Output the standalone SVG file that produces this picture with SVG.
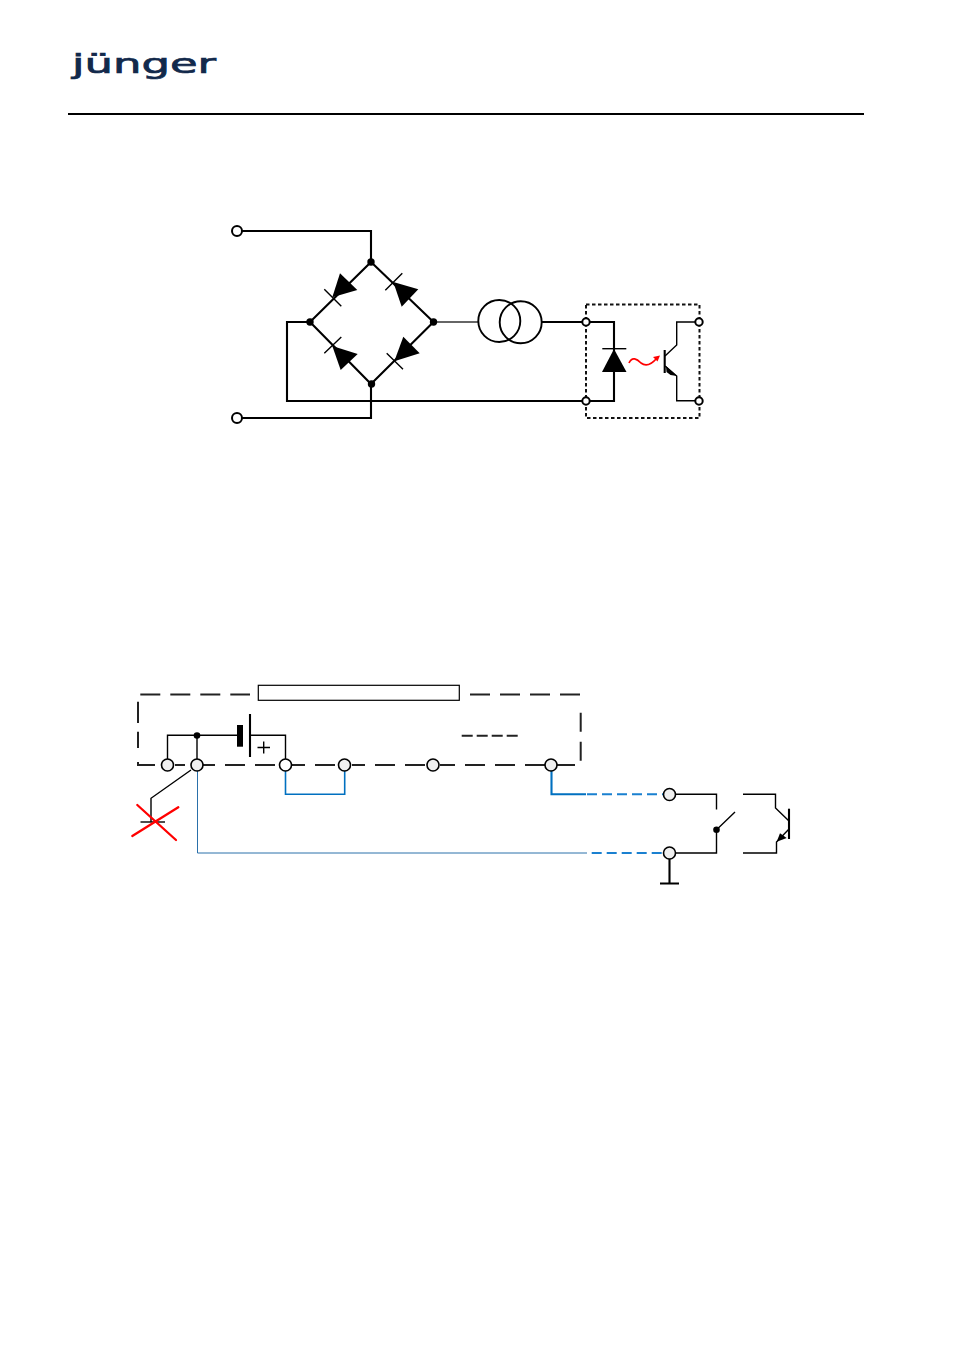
<svg xmlns="http://www.w3.org/2000/svg" width="954" height="1351" viewBox="0 0 954 1351">
<defs>
<style>
.w{fill:none;stroke:#000;stroke-width:2.100}
.t{fill:none;stroke:#000;stroke-width:1.400}
.f{fill:#000;stroke:none}
.p{fill:#fff;stroke:#000;stroke-width:2}
.s{fill:#fff;stroke:#000;stroke-width:1.600}
.g{fill:#f0f0f0;stroke:#000;stroke-width:1.600}
.d{fill:none;stroke:#222;stroke-width:2}
.b{fill:none;stroke:#0070c0;stroke-width:1.600}
.bb{fill:none;stroke:#0070c0;stroke-width:2.100}
.bt{fill:none;stroke:#2a70aa;stroke-width:1}
.bd{fill:none;stroke:#1a80d0;stroke-width:2;stroke-dasharray:10 5}
</style>
</defs>
<rect width="954" height="1351" fill="#fff"/>
<g id="logo"><text x="72" y="73" font-family="'DejaVu Sans',sans-serif" font-size="27" fill="#12294b" stroke="#12294b" stroke-width="0.700" textLength="144" lengthAdjust="spacingAndGlyphs">jünger</text></g>
<line id="header-rule" x1="68" y1="114" x2="864" y2="114" stroke="#000" stroke-width="2"/>
<g id="connectors">
<path class="w" d="M242,231H371V262L310,322L371,384L433.500,322L371,262"/>
<path class="w" d="M242,418H371V384"/>
<path class="w" d="M310,322H287V401H586"/>
<path fill="none" stroke="#333" stroke-width="1.300" d="M433.500,322H478"/>
<path class="w" d="M542,322H586"/>
<path class="w" d="M590,322H614V401H590"/>
<path class="t" d="M699,322H676.700V345L665,356M665,366L676.700,376V400.700H699"/>
<path class="t" d="M167.500,759V735.300H240M250,735.300H285.500V759M197,735.300V759"/>
<path class="t" d="M191,770L151,798.300V822"/>
<path class="t" d="M675.500,794.300H716.500V809.500M675.500,853H716.500V829.700L735,812"/>
<path class="t" d="M743,794.300H775.500V808L789,821M789,829L776.500,842V853H743"/>
<path class="b" d="M285.500,771V794.300H344.700V771"/>
<path class="bb" d="M551.500,771V794.300H586"/>
<path class="bd" d="M587,794.300H663"/>
<path class="bt" d="M197.500,771V853H587"/>
<path class="bd" d="M591.700,853H663"/>
<path class="d" stroke-dasharray="11 4" d="M461.700,735.700H518"/>
</g>
<g id="bridge">
<polygon class="f" points="340,273.300 357.300,290 332.300,297.300"/>
<polygon class="f" points="393.300,282 418.300,289.300 401.700,306.700"/>
<polygon class="f" points="332.300,346 357.700,354 340.700,370"/>
<polygon class="f" points="403.300,336.700 419.700,353.300 394.300,361.300"/>
<path class="t" d="M324.300,289.300L341.300,306.300M385.300,290.300L402.300,273.300M324.300,353.300L341.300,337M386.700,353.300L403,369.300"/>
<circle class="f" cx="371" cy="262" r="3.700"/><circle class="f" cx="310" cy="322" r="3.700"/><circle class="f" cx="433.500" cy="322" r="3.700"/><circle class="f" cx="371.500" cy="384" r="3.700"/>
</g>
<g id="input-top"><circle class="p" cx="237" cy="231" r="5"/></g>
<g id="input-bottom"><circle class="p" cx="237" cy="418" r="5"/></g>
<g id="current-source"><circle cx="499.300" cy="321" r="21" fill="none" stroke="#000" stroke-width="1.900"/><circle cx="520.700" cy="322.300" r="21" fill="none" stroke="#000" stroke-width="1.900"/></g>
<g id="optocoupler">
<rect x="586" y="304.500" width="113.500" height="113.500" fill="none" stroke="#111" stroke-width="2" stroke-dasharray="3.500 2.500"/>
<path class="t" d="M602.300,348.700H626.300"/>
<path class="f" d="M614,349L626.500,372H602Z"/>
<path fill="none" stroke="#f00" stroke-width="1.700" d="M629,363C632,356 637,359 641,363C646,367 651,365 657,358"/>
<path fill="#f00" d="M660,355.500L653,357L657.500,361.500Z"/>
<path class="w" d="M664.700,350V373"/>
<path class="f" d="M666,366L677,376L670.500,375L666.500,372Z"/>
<circle class="p" cx="586" cy="322" r="3.700"/><circle class="p" cx="586" cy="401" r="3.700"/><circle class="p" cx="699" cy="322" r="3.700"/><circle class="p" cx="699" cy="401" r="3.700"/>
</g>
<g id="enclosure">
<path class="d" stroke-dasharray="20 10" d="M140.300,694.500H250"/>
<path class="d" stroke-dasharray="20 10" d="M470,694.500H580.700V700"/>
<path class="d" stroke-dasharray="19 10" d="M580.700,712.700V762"/>
<path class="d" d="M138,701.700V723M138,731.700V748"/>
<path class="d" d="M138,762V765H155M175,765H185M203,765H215M225,765H245M255,765H275M292,765H305M315,765H335M352,765H365M375,765H395M405,765H425M440,765H455M465,765H485M495,765H515M525,765H545M557,765H575"/>
</g>
<g id="label-box"><rect x="258.300" y="685.300" width="201" height="15" fill="#fff" stroke="#000" stroke-width="1.200"/></g>
<g id="battery">
<rect x="237" y="725" width="6" height="21.700" fill="#000"/>
<path class="w" d="M250,714V757"/>
<path class="t" d="M257.500,747.500H270M263.700,741.500V753.500"/>
<circle class="f" cx="197" cy="735.500" r="3.300"/>
</g>
<g id="terminals">
<circle class="g" cx="167.500" cy="765" r="6"/><circle class="g" cx="197" cy="765" r="6"/><circle class="s" cx="285.500" cy="765" r="6"/><circle class="g" cx="344.500" cy="765" r="6"/><circle class="g" cx="433" cy="765" r="6"/><circle class="g" cx="551" cy="765" r="6"/>
</g>
<g id="crossed-ground">
<path class="t" d="M140.500,822H165"/>
<path fill="none" stroke="#f00" stroke-width="2.300" stroke-linecap="round" d="M137.300,805L176,840M178.300,807.300L132.300,836"/>
</g>
<g id="remote-terminals">
<circle class="g" cx="669.500" cy="794.500" r="6"/><circle class="g" cx="669.500" cy="853" r="6"/>
<path class="w" d="M669.500,859V883M660,883.500H679"/>
</g>
<g id="switch"><circle class="f" cx="716.500" cy="829.700" r="3.300"/></g>
<g id="transistor">
<path class="w" d="M789,808.700V839"/>
<path class="f" d="M776.700,841.700L780,833.300L786.700,838Z"/>
</g>
</svg>
